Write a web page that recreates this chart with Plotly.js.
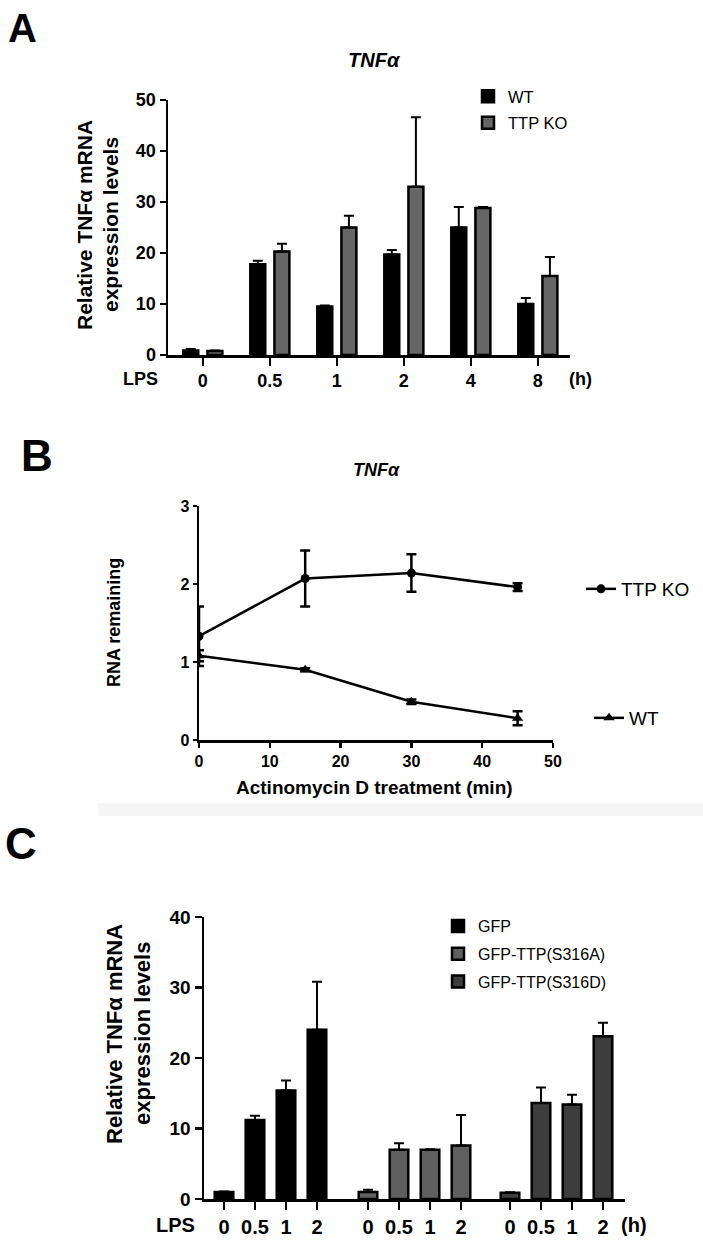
<!DOCTYPE html>
<html>
<head>
<meta charset="utf-8">
<script src="https://cdn.plot.ly/plotly-3.0.1.min.js"></script>
<style>html,body{margin:0;padding:0;background:#fff;}#chart{width:703px;height:1241px;}</style>
</head>
<body>
<div id="chart"></div>
<script>
// ---------- Panel A data ----------
const lpsA = ["0", "0.5", "1", "2", "4", "8"];
const wtA = [0.9, 17.8, 9.5, 19.7, 25.0, 10.0];
const wtAerr = [0.3, 0.7, 0.2, 0.9, 4.0, 1.2];
const koA = [0.8, 20.3, 25.0, 33.0, 28.8, 15.5];
const koAerr = [0.1, 1.5, 2.3, 13.6, 0.2, 3.7];

// ---------- Panel B data ----------
const timeB = [0, 15, 30, 45];
const koB = [1.33, 2.07, 2.14, 1.96];
const koBerr = [0.38, 0.36, 0.24, 0.05];
const wtB = [1.08, 0.90, 0.49, 0.28];
const wtBerr = [0.07, 0.02, 0.03, 0.09];

// ---------- Panel C data ----------
const lpsC = ["0", "0.5", "1", "2"];
const gfpC = [1.0, 11.2, 15.4, 24.0];
const gfpCerr = [0.05, 0.6, 1.4, 6.8];
const s316aC = [1.0, 7.0, 7.0, 7.6];
const s316aCerr = [0.3, 0.9, 0.05, 4.3];
const s316dC = [0.9, 13.6, 13.4, 23.1];
const s316dCerr = [0.05, 2.2, 1.4, 1.9];

// ---------- helpers ----------
const W = 703, H = 1241;
const PX = p => p / W;
const PY = p => 1 - p / H;
const FONT = "Liberation Sans, Arial, sans-serif";
const zeros = n => new Array(n).fill(0);
const upErr = (arr) => ({type: 'data', symmetric: false, array: arr, arrayminus: zeros(arr.length),
  color: '#000', thickness: 2, width: 5});

const traces = [
  // Panel A
  {type: 'bar', name: 'WT', x: lpsA, y: wtA, xaxis: 'x', yaxis: 'y', legend: 'legend', legendgroup: 'a1',
   marker: {color: '#000', line: {color: '#000', width: 2.5}}, error_y: upErr(wtAerr)},
  {type: 'bar', name: 'TTP KO', x: lpsA, y: koA, xaxis: 'x', yaxis: 'y', legend: 'legend', legendgroup: 'a2',
   marker: {color: '#666666', line: {color: '#000', width: 2.5}}, error_y: upErr(koAerr)},
  // Panel B
  {type: 'scatter', mode: 'lines+markers', name: 'TTP KO', x: timeB, y: koB, xaxis: 'x2', yaxis: 'y2', legend: 'legend2',
   line: {color: '#000', width: 2.5}, marker: {symbol: 'circle', size: 9, color: '#000'},
   error_y: {type: 'data', array: koBerr, color: '#000', thickness: 2.5, width: 5}},
  {type: 'scatter', mode: 'lines+markers', name: 'WT', x: timeB, y: wtB, xaxis: 'x2', yaxis: 'y2', legend: 'legend3',
   line: {color: '#000', width: 2.5}, marker: {symbol: 'triangle-up', size: 10, color: '#000'},
   error_y: {type: 'data', array: wtBerr, color: '#000', thickness: 2.5, width: 5}},
  // Panel C
  {type: 'bar', name: 'GFP', x: lpsC, y: gfpC, xaxis: 'x3', yaxis: 'y3', legend: 'legend4', legendgroup: 'c1', width: 0.6,
   marker: {color: '#000', line: {color: '#000', width: 2.5}}, error_y: upErr(gfpCerr)},
  {type: 'bar', name: 'GFP-TTP(S316A)', x: lpsC, y: s316aC, xaxis: 'x4', yaxis: 'y4', legend: 'legend4', legendgroup: 'c2', width: 0.6,
   marker: {color: '#5f5f5f', line: {color: '#000', width: 2.5}}, error_y: upErr(s316aCerr)},
  {type: 'bar', name: 'GFP-TTP(S316D)', x: lpsC, y: s316dC, xaxis: 'x5', yaxis: 'y5', legend: 'legend4', legendgroup: 'c3', width: 0.6,
   marker: {color: '#3d3d3d', line: {color: '#000', width: 2.5}}, error_y: upErr(s316dCerr)}
];

const tickFont = (s) => ({family: FONT, size: s, color: '#000', weight: 'bold'});
const baseAx = {showline: true, linecolor: '#000', linewidth: 2.5, ticks: 'outside', tickcolor: '#000',
  tickwidth: 2.5, ticklen: 6, showgrid: false, zeroline: false, fixedrange: true};

const cPos = [204, 341.75, 485.25, 625];
const c0 = [224, 368, 510];
const cStep = 31;

function txt(t, x, y, size, extra) {
  return Object.assign({text: t, x: PX(x), y: PY(y), xref: 'paper', yref: 'paper', showarrow: false,
    xanchor: 'center', yanchor: 'middle', font: {size: size, family: FONT, color: '#000'}}, extra || {});
}

const layout = {
  width: W, height: H, margin: {l: 0, r: 0, t: 0, b: 0},
  paper_bgcolor: '#fff', plot_bgcolor: 'rgba(0,0,0,0)',
  font: {family: FONT, color: '#000'},
  barmode: 'group', bargap: 0.28, bargroupgap: 0.38,
  showlegend: true,
  // Panel A axes
  xaxis: Object.assign({}, baseAx, {domain: [PX(168), PX(570)], range: [-0.52, 5.48], type: 'category',
    tickfont: tickFont(18), ticklen: 8, anchor: 'y'}),
  yaxis: Object.assign({}, baseAx, {domain: [PY(355), PY(100)], range: [0, 50], dtick: 10,
    tickfont: tickFont(18), anchor: 'x'}),
  // Panel B axes
  xaxis2: Object.assign({}, baseAx, {domain: [PX(199), PX(553)], range: [0, 50], dtick: 10,
    tickfont: tickFont(16), ticklen: 5, anchor: 'y2'}),
  yaxis2: Object.assign({}, baseAx, {domain: [PY(740), PY(506)], range: [0, 3], dtick: 1,
    tickfont: tickFont(16), ticklen: 4, anchor: 'x2'}),
  // Panel C axes
  xaxis3: Object.assign({}, baseAx, {domain: [PX(cPos[0]), PX(cPos[1])], type: 'category',
    range: [(cPos[0] - c0[0]) / cStep, (cPos[1] - c0[0]) / cStep], tickfont: tickFont(20), ticklen: 8, anchor: 'y3'}),
  xaxis4: Object.assign({}, baseAx, {domain: [PX(cPos[1]), PX(cPos[2])], type: 'category',
    range: [(cPos[1] - c0[1]) / cStep, (cPos[2] - c0[1]) / cStep], tickfont: tickFont(20), ticklen: 8, anchor: 'y4'}),
  xaxis5: Object.assign({}, baseAx, {domain: [PX(cPos[2]), PX(cPos[3])], type: 'category',
    range: [(cPos[2] - c0[2]) / cStep, (cPos[3] - c0[2]) / cStep], tickfont: tickFont(20), ticklen: 8, anchor: 'y5'}),
  yaxis3: Object.assign({}, baseAx, {domain: [PY(1199), PY(917)], range: [0, 40], dtick: 10,
    tickfont: tickFont(19), ticklen: 7, anchor: 'x3'}),
  yaxis4: {domain: [PY(1199), PY(917)], range: [0, 40], matches: 'y3', visible: false, anchor: 'x4', fixedrange: true},
  yaxis5: {domain: [PY(1199), PY(917)], range: [0, 40], matches: 'y3', visible: false, anchor: 'x5', fixedrange: true},

  legend: {x: PX(468), y: PY(79), xanchor: 'left', yanchor: 'top', bgcolor: 'rgba(0,0,0,0)',
    font: {family: FONT, size: 16.5, color: '#000'}, tracegroupgap: 2, traceorder: 'grouped'},
  legend2: {x: PX(581), y: PY(570), xanchor: 'left', yanchor: 'top', bgcolor: 'rgba(0,0,0,0)',
    font: {family: FONT, size: 19, color: '#000'}},
  legend3: {x: PX(589), y: PY(699), xanchor: 'left', yanchor: 'top', bgcolor: 'rgba(0,0,0,0)',
    font: {family: FONT, size: 19, color: '#000'}},
  legend4: {x: PX(438), y: PY(909), xanchor: 'left', yanchor: 'top', bgcolor: 'rgba(0,0,0,0)',
    font: {family: FONT, size: 16, color: '#000'}, tracegroupgap: 4, traceorder: 'grouped'},

  shapes: [
    {type: 'rect', xref: 'paper', yref: 'paper', x0: PX(98), x1: 1, y0: PY(816), y1: PY(803),
     fillcolor: '#f5f5f5', line: {width: 0}, layer: 'below'}
  ],
  annotations: [
    txt('<b>A</b>', 22, 28, 40),
    txt('<b><i>TNFα</i></b>', 375, 60, 20),
    txt('<b>Relative TNFα mRNA</b>', 84, 225, 21, {textangle: -90}),
    txt('<b>expression levels</b>', 110, 225, 21, {textangle: -90}),
    txt('<b>LPS</b>', 140, 379, 18),
    txt('<b>(h)</b>', 580, 379, 18),

    txt('<b>B</b>', 37, 455, 44),
    txt('<b><i>TNFα</i></b>', 376, 470, 18),
    txt('<b>RNA remaining</b>', 114, 623, 18, {textangle: -90}),
    txt('<b>Actinomycin D treatment (min)</b>', 375, 787, 19),

    txt('<b>C</b>', 21, 843, 44),
    txt('<b>Relative TNFα mRNA</b>', 114, 1034, 22, {textangle: -90}),
    txt('<b>expression levels</b>', 142, 1034, 22, {textangle: -90}),
    txt('<b>LPS</b>', 175, 1225, 20),
    txt('<b>(h)</b>', 634, 1225, 20)
  ]
};

Plotly.newPlot('chart', traces, layout, {displayModeBar: false, staticPlot: true});
</script>
</body>
</html>
